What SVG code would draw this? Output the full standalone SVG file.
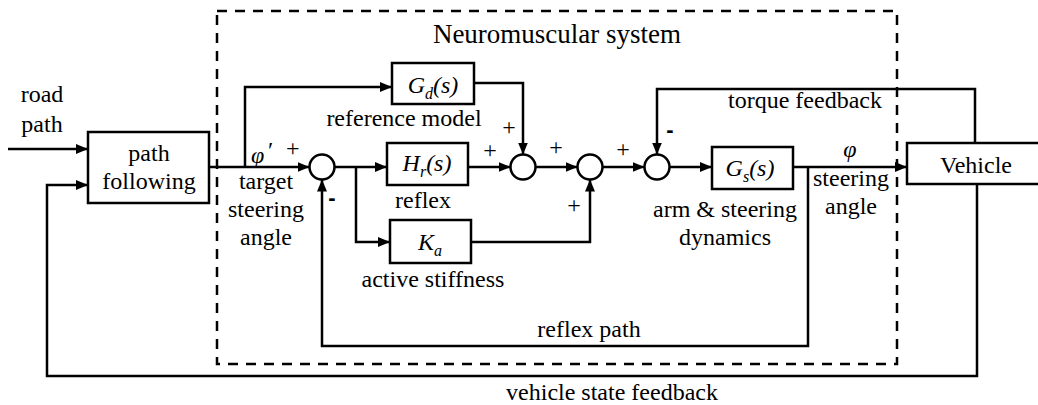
<svg xmlns="http://www.w3.org/2000/svg" width="1038" height="405" viewBox="0 0 1038 405">
<defs>
<marker id="ah" viewBox="0 0 12 10" refX="12" refY="5" markerWidth="12" markerHeight="10" markerUnits="userSpaceOnUse" orient="auto">
<path d="M0,0 L12,5 L0,10 Z" fill="#000"/>
</marker>
<style>
.arr{fill:none;stroke:#000;stroke-width:2.5;marker-end:url(#ah)}
.box{fill:#fff;stroke:#000;stroke-width:2.5}
.sum{fill:#fff;stroke:#000;stroke-width:2.5}
</style>
</defs>
<rect x="0" y="0" width="1038" height="405" fill="#fff"/>

<g id="neuromuscular-boundary">
<rect x="217" y="11" width="680" height="353" fill="none" stroke="#000" stroke-width="2.5" stroke-dasharray="10,8"/>
<text x="557" y="43" text-anchor="middle" font-family="Liberation Serif, Times New Roman, serif" font-size="27" fill="#000">Neuromuscular system</text>
</g>

<g id="connectors">
<polyline class="arr" points="8,149 88,149"/>
<polyline class="arr" points="977,184 977,376 47,376 47,185 88,185"/>
<polyline class="arr" points="209,167 309.5,167"/>
<polyline class="arr" points="245,167 245,87 392,87"/>
<polyline class="arr" points="474,83 523,83 523,154.5"/>
<polyline class="arr" points="334.5,167 387,167"/>
<polyline class="arr" points="356,167 356,242 390,242"/>
<polyline class="arr" points="468,167 510.5,167"/>
<polyline class="arr" points="535.5,167 577.5,167"/>
<polyline class="arr" points="471,242 590,242 590,179.5"/>
<polyline class="arr" points="602.5,167 644.5,167"/>
<polyline class="arr" points="669.5,167 712,167"/>
<polyline class="arr" points="793,167 907,167"/>
<polyline class="arr" points="808,167 808,346 322,346 322,179.5"/>
<polyline class="arr" points="975,143 975,89 657,89 657,154.5"/>
</g>

<g id="labels" font-family="Liberation Serif, Times New Roman, serif" font-size="24" fill="#000">
<text x="42" y="102" text-anchor="middle">road</text>
<text x="42" y="132" text-anchor="middle">path</text>
<text x="251" y="163" font-style="italic">φ</text>
<text x="268" y="158">′</text>
<text x="286" y="156">+</text>
<text x="266" y="189" text-anchor="middle">target</text>
<text x="266" y="217" text-anchor="middle">steering</text>
<text x="266" y="245" text-anchor="middle">angle</text>
<text x="404" y="126" text-anchor="middle">reference model</text>
<text x="423" y="208" text-anchor="middle">reflex</text>
<text x="433" y="287" text-anchor="middle">active stiffness</text>
<text x="725" y="217" text-anchor="middle">arm &amp; steering</text>
<text x="725" y="245" text-anchor="middle">dynamics</text>
<text x="850" y="157" text-anchor="middle" font-style="italic">φ</text>
<text x="851" y="186" text-anchor="middle">steering</text>
<text x="851" y="214" text-anchor="middle">angle</text>
<text x="805" y="108" text-anchor="middle">torque feedback</text>
<text x="589" y="337" text-anchor="middle">reflex path</text>
<text x="612" y="400" text-anchor="middle">vehicle state feedback</text>
<text x="332" y="205" text-anchor="middle" font-family="Liberation Sans, Arial, sans-serif" font-size="22" font-weight="bold">-</text>
<text x="490" y="158" text-anchor="middle">+</text>
<text x="509" y="135" text-anchor="middle">+</text>
<text x="556" y="155" text-anchor="middle">+</text>
<text x="574" y="213" text-anchor="middle">+</text>
<text x="623" y="157" text-anchor="middle">+</text>
<text x="670" y="137" text-anchor="middle" font-family="Liberation Sans, Arial, sans-serif" font-size="22" font-weight="bold">-</text>
</g>

<g id="path-following" font-family="Liberation Serif, Times New Roman, serif" font-size="24" fill="#000">
<rect class="box" x="88" y="132" width="121" height="71"/>
<text x="149" y="161" text-anchor="middle">path</text>
<text x="149" y="189" text-anchor="middle">following</text>
</g>

<g id="Gd" font-family="Liberation Serif, Times New Roman, serif" font-size="24" font-style="italic" fill="#000">
<rect class="box" x="392" y="63" width="82" height="41"/>
<text x="433" y="93" text-anchor="middle">G<tspan dy="6" font-size="16">d</tspan><tspan dy="-6">(s)</tspan></text>
</g>

<g id="Hr" font-family="Liberation Serif, Times New Roman, serif" font-size="24" font-style="italic" fill="#000">
<rect class="box" x="387" y="143" width="81" height="42"/>
<text x="427" y="171" text-anchor="middle">H<tspan dy="6" font-size="16">r</tspan><tspan dy="-6">(s)</tspan></text>
</g>

<g id="Ka" font-family="Liberation Serif, Times New Roman, serif" font-size="24" font-style="italic" fill="#000">
<rect class="box" x="390" y="220" width="81" height="43"/>
<text x="430" y="250" text-anchor="middle">K<tspan dy="6" font-size="16">a</tspan></text>
</g>

<g id="Gs" font-family="Liberation Serif, Times New Roman, serif" font-size="24" font-style="italic" fill="#000">
<rect class="box" x="712" y="147" width="81" height="42"/>
<text x="750" y="176" text-anchor="middle">G<tspan dy="6" font-size="16">s</tspan><tspan dy="-6">(s)</tspan></text>
</g>

<g id="vehicle" font-family="Liberation Serif, Times New Roman, serif" font-size="24" fill="#000">
<rect class="box" x="907" y="143" width="134" height="41"/>
<text x="976" y="173" text-anchor="middle">Vehicle</text>
</g>

<g id="sum1"><circle class="sum" cx="322" cy="167" r="12.5"/></g>
<g id="sum2"><circle class="sum" cx="523" cy="167" r="12.5"/></g>
<g id="sum3"><circle class="sum" cx="590" cy="167" r="12.5"/></g>
<g id="sum4"><circle class="sum" cx="657" cy="167" r="12.5"/></g>
</svg>
